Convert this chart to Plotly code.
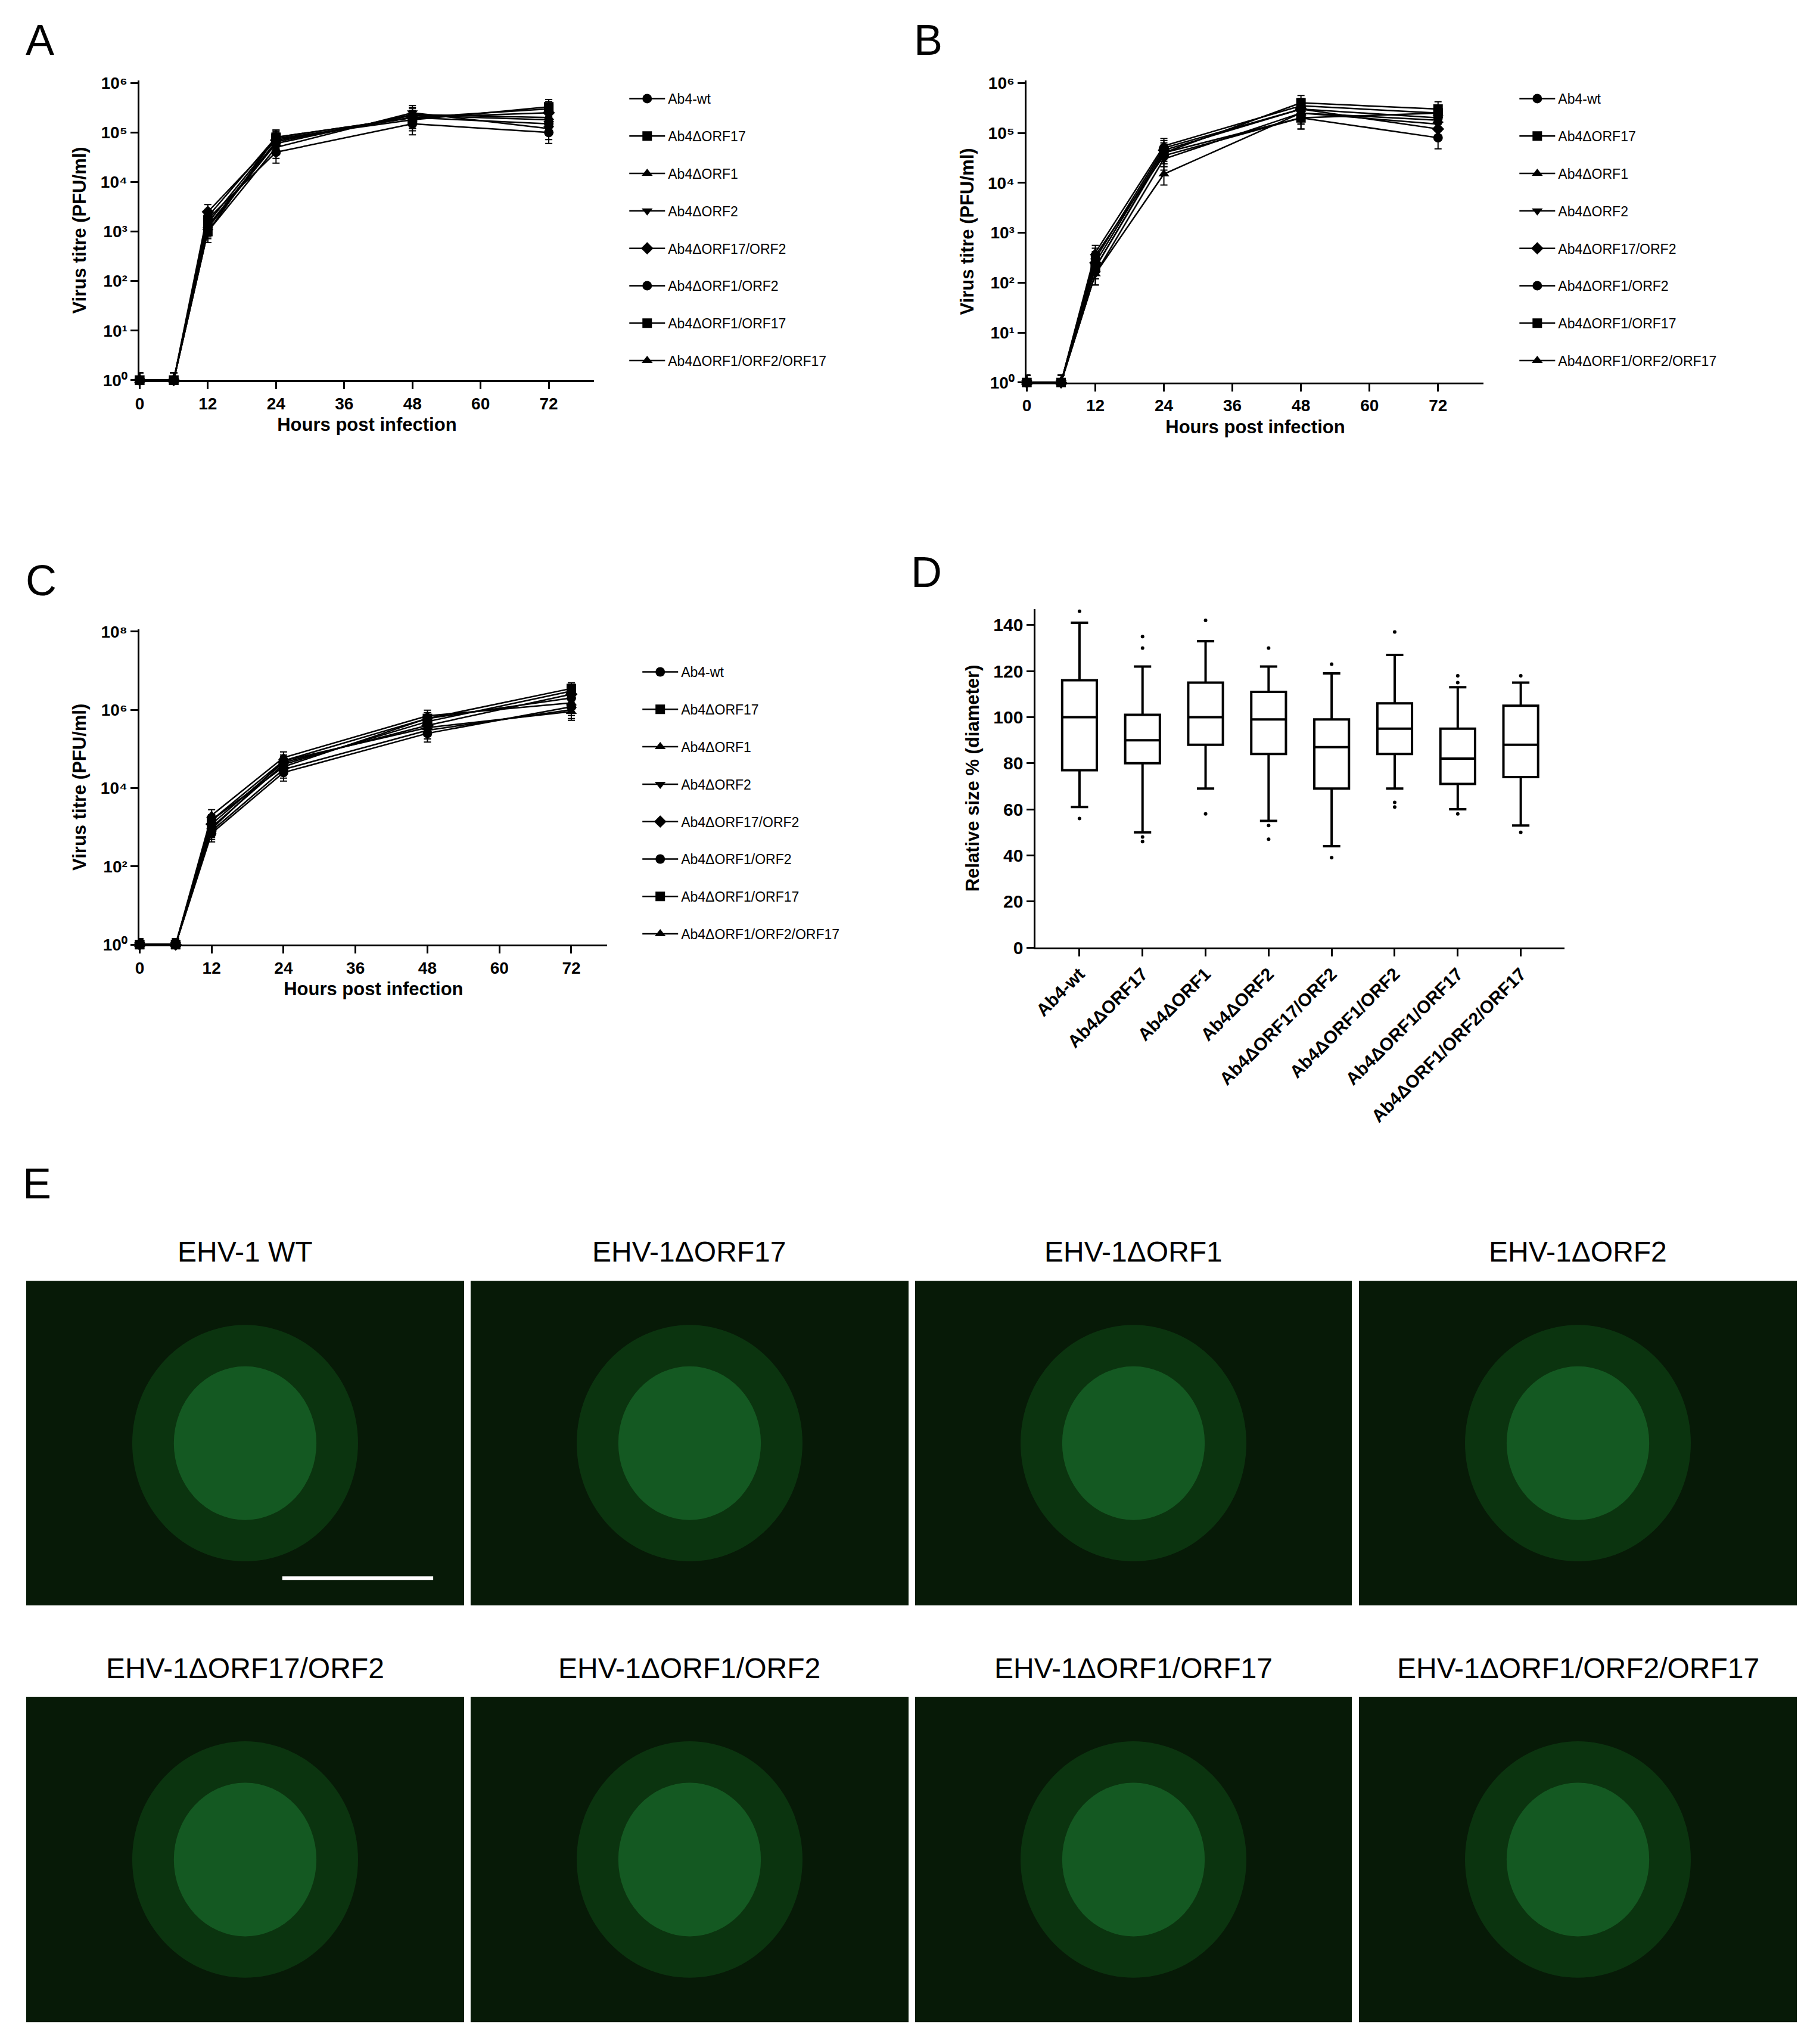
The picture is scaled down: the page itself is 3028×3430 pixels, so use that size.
import plotly.graph_objects as go

W, H = 3028, 3430
hours = [0, 6, 12, 24, 48, 72]
names = ["Ab4-wt", "Ab4ΔORF17", "Ab4ΔORF1", "Ab4ΔORF2", "Ab4ΔORF17/ORF2",
         "Ab4ΔORF1/ORF2", "Ab4ΔORF1/ORF17", "Ab4ΔORF1/ORF2/ORF17"]
symbols = ["circle", "square", "triangle-up", "triangle-down", "diamond", "circle", "square", "triangle-up"]

titre_A = [
    [1, 1, 2000, 80000, 200000, 150000],
    [1, 1, 1500, 75000, 180000, 330000],
    [1, 1, 1200, 60000, 230000, 200000],
    [1, 1, 1000, 50000, 250000, 120000],
    [1, 1, 2500, 70000, 200000, 250000],
    [1, 1, 1800, 40000, 150000, 100000],
    [1, 1, 1000, 80000, 200000, 300000],
    [1, 1, 1300, 65000, 220000, 180000],
]
titre_B = [
    [1, 1, 300, 50000, 300000, 200000],
    [1, 1, 200, 40000, 400000, 300000],
    [1, 1, 400, 55000, 350000, 250000],
    [1, 1, 150, 30000, 250000, 150000],
    [1, 1, 250, 45000, 300000, 120000],
    [1, 1, 350, 35000, 200000, 80000],
    [1, 1, 200, 40000, 200000, 250000],
    [1, 1, 150, 15000, 250000, 180000],
]
titre_C = [
    [1, 1, 1500, 50000, 600000, 2000000],
    [1, 1, 1000, 40000, 500000, 3000000],
    [1, 1, 2000, 60000, 700000, 1500000],
    [1, 1, 800, 30000, 300000, 1000000],
    [1, 1, 1200, 45000, 400000, 2500000],
    [1, 1, 700, 25000, 250000, 1200000],
    [1, 1, 1500, 35000, 600000, 3500000],
    [1, 1, 900, 50000, 350000, 900000],
]

box_low = [61, 50, 69, 55, 44, 69, 60, 53]
box_q1 = [77, 80, 88, 84, 69, 84, 71, 74]
box_med = [100, 90, 100, 99, 87, 95, 82, 88]
box_q3 = [116, 101, 115, 111, 99, 106, 95, 105]
box_high = [141, 122, 133, 122, 119, 127, 113, 115]
box_out = [[56, 146], [46, 48, 130, 135], [58, 142], [47, 53, 130], [39, 123], [61, 63, 137], [58, 115, 118], [50, 118]]
stars = ["", "*", "", "", "**", "", "*", "*"]

image_titles = ["EHV-1 WT", "EHV-1ΔORF17", "EHV-1ΔORF1", "EHV-1ΔORF2",
                "EHV-1ΔORF17/ORF2", "EHV-1ΔORF1/ORF2", "EHV-1ΔORF1/ORF17", "EHV-1ΔORF1/ORF2/ORF17"]

FONT = "Liberation Sans, Arial"
fig = go.Figure()

panels = [("x", "y", titre_A, "legend"), ("x2", "y2", titre_B, "legend2"), ("x3", "y3", titre_C, "legend3")]
for xa, ya, data, lg in panels:
    for i, n in enumerate(names):
        fig.add_trace(go.Scatter(
            x=hours, y=data[i], xaxis=xa, yaxis=ya, name=n + "<br> ", legend=lg,
            mode="lines+markers", cliponaxis=False,
            line=dict(color="black", width=2.5),
            marker=dict(symbol=symbols[i], size=16, color="black"),
            error_y=dict(type="percent", value=40, color="black", thickness=2, width=6)))

cats = names
fig.add_trace(go.Box(
    x=cats, q1=box_q1, median=box_med, q3=box_q3, lowerfence=box_low, upperfence=box_high,
    xaxis="x4", yaxis="y4", fillcolor="white", line=dict(color="black", width=4),
    showlegend=False, whiskerwidth=0.5, width=0.55))
ox, oy = [], []
for c, outs in zip(cats, box_out):
    for v in outs:
        ox.append(c); oy.append(v)
fig.add_trace(go.Scatter(x=ox, y=oy, xaxis="x4", yaxis="y4", mode="markers",
                         marker=dict(color="black", size=6), showlegend=False))

def px(x): return x / W
def py(y): return 1 - y / H

axis_common = dict(showline=True, linecolor="black", linewidth=3, ticks="outside",
                   tickwidth=3, ticklen=12, tickcolor="black", showgrid=False, zeroline=False,
                   tickfont=dict(family=FONT, size=28, color="black"))
title_font = dict(family=FONT, size=31, color="black", weight="bold")
sup = {0: "⁰", 1: "¹", 2: "²", 3: "³", 4: "⁴", 5: "⁵", 6: "⁶", 7: "⁷", 8: "⁸"}

def xa(dom, rng, anchor):
    return dict(axis_common, domain=dom, range=rng, anchor=anchor, tickvals=[0, 12, 24, 36, 48, 60, 72],
                title=dict(text="Hours post infection", font=title_font, standoff=10),
                tickfont=dict(family=FONT, size=28, color="black", weight="bold"))

def ya(dom, top, step, anchor):
    vals = list(range(0, int(top) + 1, step))
    return dict(axis_common, type="log", domain=dom, range=[0, top + 0.05], anchor=anchor,
                tickvals=[10 ** v for v in vals], ticktext=["10" + sup[v] for v in vals],
                title=dict(text="Virus titre (PFU/ml)", font=title_font, standoff=15),
                tickfont=dict(family=FONT, size=28, color="black", weight="bold"))

fig.update_layout(
    width=W, height=H, margin=dict(l=0, r=0, t=0, b=0),
    paper_bgcolor="white", plot_bgcolor="white", font=dict(family=FONT, color="black"),
    xaxis=xa([px(219), px(984)], [0, 80], "y"), yaxis=ya([py(623), py(116)], 6, 1, "x"),
    xaxis2=xa([px(1712), px(2481)], [0, 80], "y2"), yaxis2=ya([py(627), py(116)], 6, 1, "x2"),
    xaxis3=xa([px(219), px(1006)], [0, 78], "y3"), yaxis3=ya([py(1578), py(1045)], 8, 2, "x3"),
    xaxis4=dict(axis_common, domain=[px(1727), px(2617)], tickangle=-45, anchor="y4",
                tickfont=dict(family=FONT, size=30, color="black", weight="bold")),
    yaxis4=dict(axis_common, domain=[py(1583), py(1010)], range=[0, 147], dtick=20, anchor="x4",
                title=dict(text="Relative size % (diameter)", font=title_font, standoff=15),
                tickfont=dict(family=FONT, size=30, color="black", weight="bold")),
)
for lg, x, y in [("legend", px(1038), py(125)), ("legend2", px(2536), py(125)), ("legend3", px(1060), py(1095))]:
    fig.update_layout({lg: dict(x=x, y=y, xanchor="left", yanchor="top", valign="top",
                                font=dict(family=FONT, size=23, color="black"),
                                bgcolor="rgba(0,0,0,0)", tracegroupgap=0, itemwidth=60)})

ann = []
for letter, x, y in [("A", 25, 5), ("B", 1520, 5), ("C", 25, 920), ("D", 1515, 905), ("E", 20, 1940)]:
    ann.append(dict(text=letter, x=px(x), y=py(y), xref="paper", yref="paper", xanchor="left",
                    yanchor="top", showarrow=False, font=dict(family=FONT, size=72, color="black")))
for c, s in zip(cats, stars):
    if s:
        ann.append(dict(text=s, x=c, y=150, xref="x4", yref="y4", showarrow=False,
                        font=dict(family=FONT, size=36, color="black", weight="bold")))

shapes = []
col_x = [(28, 765), (776, 1513), (1524, 2259), (2271, 3008)]
rows = [(2147, 2696, 2098), (2851, 3401, 2802)]
k = 0
for (y0, y1, ty) in rows:
    for (x0, x1) in col_x:
        shapes.append(dict(type="rect", xref="paper", yref="paper", x0=px(x0), x1=px(x1),
                           y0=py(y1), y1=py(y0), fillcolor="#071a07", line=dict(width=0), layer="below"))
        cx, cy = (x0 + x1) / 2, (y0 + y1) / 2
        shapes.append(dict(type="circle", xref="paper", yref="paper", x0=px(cx - 190), x1=px(cx + 190),
                           y0=py(cy + 200), y1=py(cy - 200), fillcolor="rgba(40,200,70,0.15)",
                           line=dict(width=0), layer="below"))
        shapes.append(dict(type="circle", xref="paper", yref="paper", x0=px(cx - 120), x1=px(cx + 120),
                           y0=py(cy + 130), y1=py(cy - 130), fillcolor="rgba(60,240,110,0.2)",
                           line=dict(width=0), layer="below"))
        ann.append(dict(text=image_titles[k], x=px((x0 + x1) / 2), y=py(ty), xref="paper", yref="paper",
                        xanchor="center", yanchor="middle",
                        showarrow=False, font=dict(family=FONT, size=48, color="black")))
        k += 1
shapes.append(dict(type="line", xref="paper", yref="paper", x0=px(459), x1=px(713), y0=py(2650), y1=py(2650),
                   line=dict(color="white", width=6)))
fig.update_layout(annotations=ann, shapes=shapes)
fig.write_html("out.html")
